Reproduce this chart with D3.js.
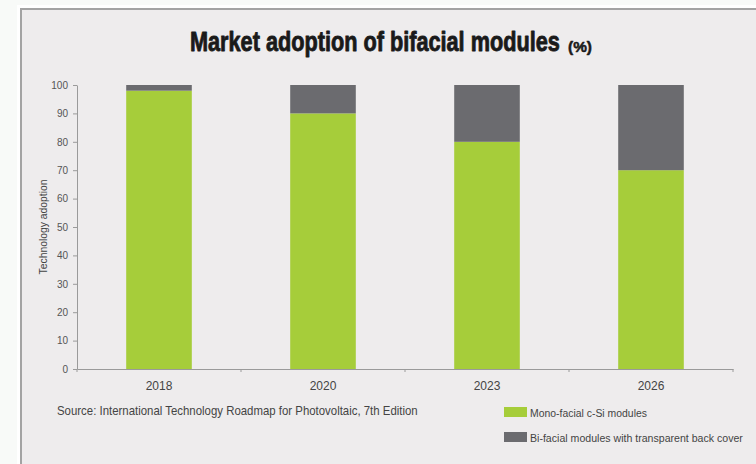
<!DOCTYPE html>
<html><head><meta charset="utf-8">
<script src="https://cdn.jsdelivr.net/npm/d3@7"></script>
<style>
html,body{margin:0;padding:0;background:#f8faf8;}
svg{display:block;}
</style></head>
<body>
<svg id="chart" width="756" height="464"></svg>
<script>
const years = ["2018","2020","2023","2026"];
const monoFacial = [98, 90, 80, 70];
const biFacial = [2, 10, 20, 30];
const seriesNames = ["Mono-facial c-Si modules", "Bi-facial modules with transparent back cover"];
const yTicks = [0,10,20,30,40,50,60,70,80,90,100];

const colors = ["#a6cd3a", "#6b6b6f"];
const font = "'Liberation Sans',Arial,sans-serif";
const legendLengths = [117, 213];

const svg = d3.select("#chart");

// place a text at (x,y), squeezed horizontally to the given width
function fitText(g, x, y, str, size, width, opts = {}) {
  const t = g.append("text")
    .attr("font-family", font).attr("font-size", size)
    .attr("font-weight", opts.weight || "normal")
    .attr("fill", opts.fill || "#444")
    .attr("text-anchor", opts.anchor || "start")
    .text(str);
  if (opts.stroke) t.attr("stroke", opts.fill).attr("stroke-width", opts.stroke).attr("stroke-linejoin","round");
  const w0 = t.node().getComputedTextLength();
  const sx = width / w0;
  const rot = opts.rotate ? ` rotate(${opts.rotate})` : "";
  t.attr("transform", `translate(${x},${y})${rot} scale(${sx},1)`);
  return t;
}

svg.append("rect").attr("x",0).attr("y",0).attr("width",756).attr("height",464).attr("fill","#f8faf8");
svg.append("rect").attr("x",17).attr("y",5).attr("width",760).attr("height",470).attr("fill","#ffffff");
svg.append("rect").attr("x",21).attr("y",9).attr("width",760).attr("height",470)
  .attr("fill","#eeeced").attr("stroke","#a3a3a3").attr("stroke-width",2);

const margin = {left:77, right:733, top:85, bottom:369};
const x = d3.scaleBand().domain(years).range([margin.left, margin.right]).paddingInner(0.6).paddingOuter(0.3);
const y = d3.scaleLinear().domain([0,100]).range([margin.bottom, margin.top]);

const table = years.map((yr,i)=>({year:yr, mono:monoFacial[i], bi:biFacial[i]}));
const stack = d3.stack().keys(["mono","bi"])(table);

svg.append("g").selectAll("g").data(stack).join("g")
  .attr("fill",(d,i)=>colors[i])
  .selectAll("rect").data(d=>d).join("rect")
  .attr("x",d=>x(d.data.year))
  .attr("width",x.bandwidth())
  .attr("y",d=>y(d[1]))
  .attr("height",d=>y(d[0])-y(d[1]));

// Y axis
const yAxis = svg.append("g").attr("transform",`translate(${margin.left},0)`)
  .call(d3.axisLeft(y).tickValues(yTicks).tickSize(4).tickSizeOuter(0).tickPadding(5));
yAxis.select(".domain").attr("stroke","#9a9a9a");
yAxis.selectAll(".tick line").attr("stroke","#9a9a9a");
yAxis.selectAll(".tick text").attr("font-family",font).attr("font-size",10).attr("fill","#555").attr("x",-9);

// X axis
const xAxis = svg.append("g").attr("transform",`translate(0,${margin.bottom})`)
  .call(d3.axisBottom(x).tickSize(0).tickPadding(12));
xAxis.select(".domain").attr("stroke","#9a9a9a");
xAxis.selectAll("text").attr("font-family",font).attr("font-size",12).attr("fill","#444");
const bounds = years.map(d=>x(d)-x.step()*x.paddingInner()/2).concat([margin.right]);
xAxis.selectAll("line.bnd").data(bounds).join("line").attr("class","bnd")
  .attr("x1",d=>d).attr("x2",d=>d).attr("y1",0).attr("y2",3).attr("stroke","#9a9a9a");

// Y label
fitText(svg, 47, 227, "Technology adoption", 11, 95, {anchor:"middle", rotate:-90});

// Title
fitText(svg, 190, 51, "Market adoption of bifacial modules", 28, 370, {weight:"bold", fill:"#1a1a1a", stroke:0.9});
fitText(svg, 568, 52, "(%)", 15, 24, {weight:"bold", fill:"#1a1a1a", stroke:0.5});

// Source
fitText(svg, 57, 415, "Source: International Technology Roadmap for Photovoltaic, 7th Edition", 12, 361);

// Legend
const leg = svg.append("g").selectAll("g").data(seriesNames).join("g")
  .attr("transform",(d,i)=>`translate(504,${407+i*25})`);
leg.append("rect").attr("width",23).attr("height",10).attr("fill",(d,i)=>colors[i]);
leg.each(function(d,i){ fitText(d3.select(this), 26, 9.5, d, 11.5, legendLengths[i]); });
</script>
</body></html>
